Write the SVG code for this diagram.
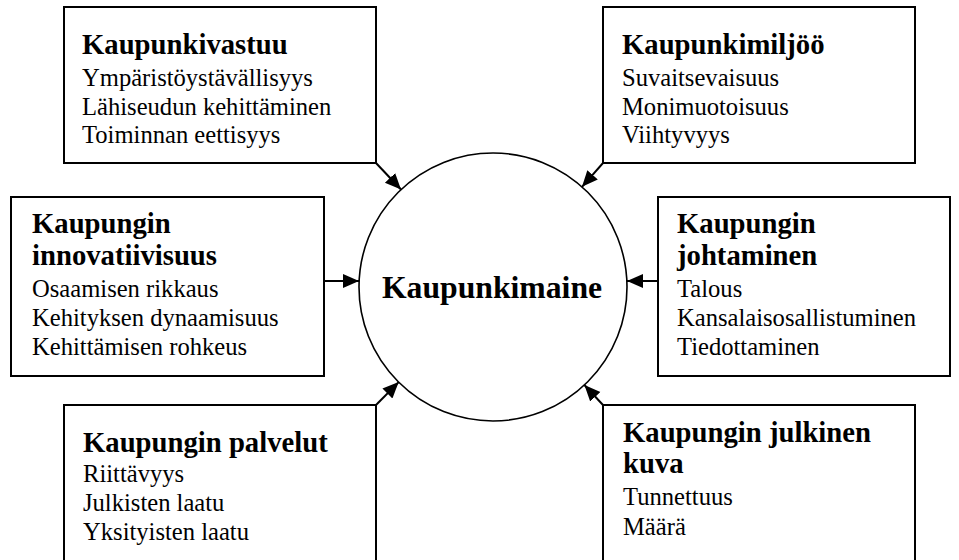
<svg xmlns="http://www.w3.org/2000/svg" width="959" height="560" viewBox="0 0 959 560">
<style>
.box{fill:#fff;stroke:#000;stroke-width:2}
text{font-family:"Liberation Serif","Times New Roman",serif;fill:#000}
.b{font-size:28.7px;font-weight:bold}
.r{font-size:24.6px}
.c{font-size:31.7px;font-weight:bold}
.conn{stroke:#000;stroke-width:2;fill:none}
</style>
<defs>
<marker id="ah" markerUnits="userSpaceOnUse" markerWidth="17" markerHeight="15" refX="16" refY="7" orient="auto">
<path d="M0,0 L16,7 L0,14 z" fill="#000"/>
</marker>
</defs>
<rect width="959" height="560" fill="#fff"/>
<g id="connectors">
<line class="conn" x1="376" y1="163" x2="401" y2="189.5" marker-end="url(#ah)"/>
<line class="conn" x1="603" y1="163" x2="582" y2="186.8" marker-end="url(#ah)"/>
<line class="conn" x1="324" y1="281" x2="359" y2="281" marker-end="url(#ah)"/>
<line class="conn" x1="658" y1="281" x2="627" y2="281" marker-end="url(#ah)"/>
<line class="conn" x1="376" y1="405" x2="398.7" y2="382.1" marker-end="url(#ah)"/>
<line class="conn" x1="603" y1="405" x2="584.4" y2="385" marker-end="url(#ah)"/>
</g>
<g id="center">
<circle cx="493" cy="287" r="134" fill="none" stroke="#000" stroke-width="1.6"/>
<text class="c" x="492" y="298" text-anchor="middle">Kaupunkimaine</text>
</g>
<g id="kaupunkivastuu">
<rect class="box" x="64" y="7" width="312" height="156"/>
<text class="b" x="82" y="54">Kaupunkivastuu</text>
<text class="r" x="82" y="86">Ympäristöystävällisyys</text>
<text class="r" x="82" y="115">Lähiseudun kehittäminen</text>
<text class="r" x="82" y="143">Toiminnan eettisyys</text>
</g>
<g id="kaupunkimiljoo">
<rect class="box" x="603" y="7" width="312" height="156"/>
<text class="b" x="622" y="54">Kaupunkimiljöö</text>
<text class="r" x="622" y="86">Suvaitsevaisuus</text>
<text class="r" x="622" y="115">Monimuotoisuus</text>
<text class="r" x="622" y="143">Viihtyvyys</text>
</g>
<g id="innovatiivisuus">
<rect class="box" x="11" y="197" width="313" height="179"/>
<text class="b" x="32" y="233">Kaupungin</text>
<text class="b" x="32" y="265">innovatiivisuus</text>
<text class="r" x="32" y="297">Osaamisen rikkaus</text>
<text class="r" x="32" y="326">Kehityksen dynaamisuus</text>
<text class="r" x="32" y="355">Kehittämisen rohkeus</text>
</g>
<g id="johtaminen">
<rect class="box" x="658" y="197" width="292" height="179"/>
<text class="b" x="677" y="233">Kaupungin</text>
<text class="b" x="677" y="265">johtaminen</text>
<text class="r" x="677" y="297">Talous</text>
<text class="r" x="677" y="326">Kansalaisosallistuminen</text>
<text class="r" x="677" y="355">Tiedottaminen</text>
</g>
<g id="palvelut">
<rect class="box" x="64" y="405" width="312" height="170"/>
<text class="b" x="83" y="452">Kaupungin palvelut</text>
<text class="r" x="83" y="482">Riittävyys</text>
<text class="r" x="83" y="511">Julkisten laatu</text>
<text class="r" x="83" y="540">Yksityisten laatu</text>
</g>
<g id="julkinen-kuva">
<rect class="box" x="603" y="405" width="312" height="170"/>
<text class="b" x="623" y="442">Kaupungin julkinen</text>
<text class="b" x="623" y="473">kuva</text>
<text class="r" x="623" y="505">Tunnettuus</text>
<text class="r" x="623" y="535">Määrä</text>
</g>
</svg>
